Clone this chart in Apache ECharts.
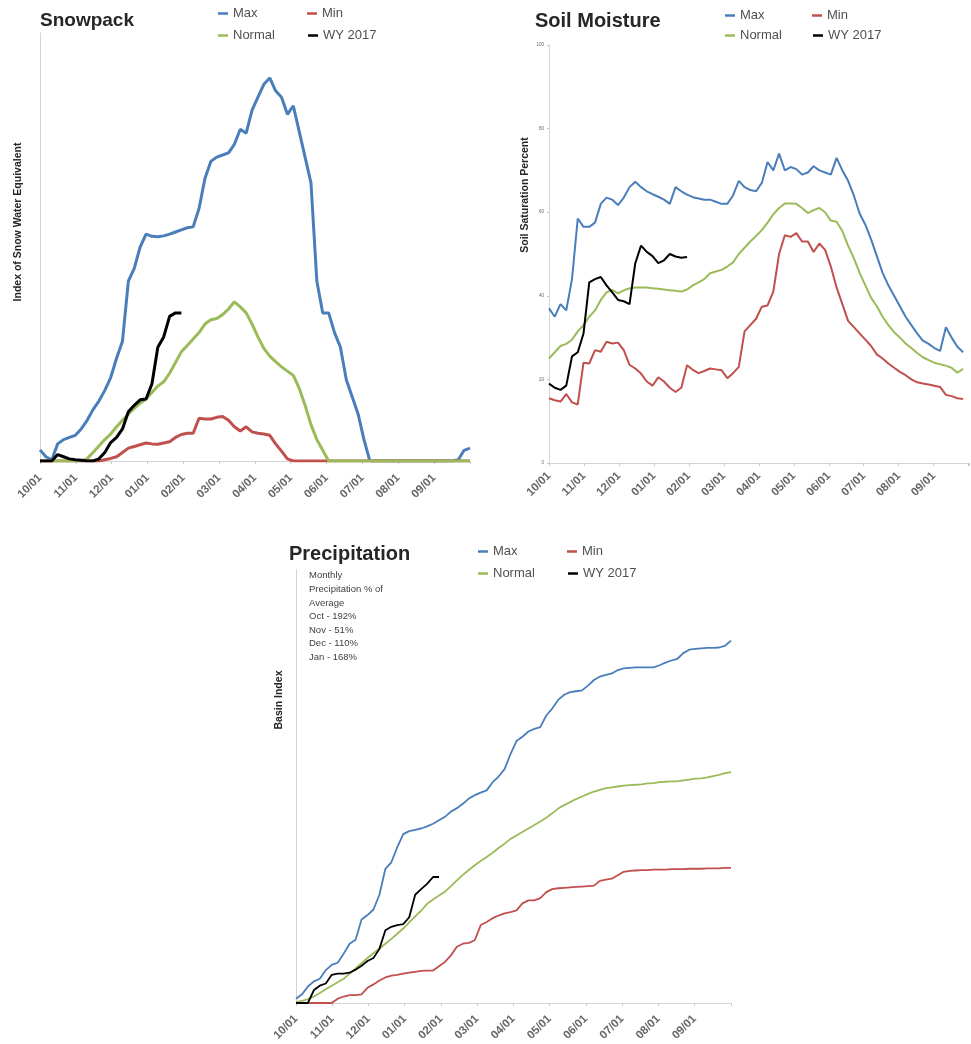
<!DOCTYPE html>
<html>
<head>
<meta charset="utf-8">
<title>Snowpack, Soil Moisture, Precipitation</title>
<script src="https://cdn.jsdelivr.net/npm/echarts@6.0.0/dist/echarts.min.js"></script>
<style>
  html, body { margin: 0; padding: 0; background: #fff; }
  #chart { width: 971px; height: 1044px; }
</style>
</head>
<body>
<div id="chart"></div>
<script>
// month tick labels of the water year, one every ~30.4 days
const monthLabels = ["10/01", "11/01", "12/01", "01/01", "02/01", "03/01",
  "04/01", "05/01", "06/01", "07/01", "08/01", "09/01"];
const seriesNames = ["Max", "Min", "Normal", "WY 2017"];
// values are read every 5 days from 10/01
const dayStep = 5;

// Snowpack (index of snow water equivalent, unlabelled axis 0-100)
const snowMax = [2.6, 1, 0.3, 4, 5, 5.5, 6, 7.5, 9.5, 12,
  14, 16.5, 19.5, 24, 28, 42, 45, 50, 53, 52.5,
  52.4, 52.6, 53, 53.5, 54, 54.5, 54.7, 59, 66, 70,
  71, 71.5, 72, 74, 77.5, 76.6, 82, 85, 88, 89.5,
  86.5, 85, 81, 83, 77, 71, 65, 42, 34.6, 34.6,
  30, 26.6, 19, 15, 11, 5, 0, 0, 0, 0,
  0, 0, 0, 0, 0, 0, 0, 0, 0, 0,
  0, 0.3, 2.5, 3];
const snowMin = [0, 0, 0, 0, 0, 0, 0, 0, 0, 0,
  0, 0.3, 0.6, 1, 2, 3, 3.4, 3.8, 4.2, 4,
  3.9, 4.2, 4.5, 5.5, 6.2, 6.5, 6.5, 10, 9.8, 9.8,
  10.2, 10.4, 9.5, 8, 7, 8, 6.8, 6.5, 6.3, 6,
  4, 2.3, 0.5, 0, 0, 0, 0, 0, 0, 0,
  0, 0, 0, 0, 0, 0, 0, 0, 0, 0,
  0, 0, 0, 0, 0, 0, 0, 0, 0, 0,
  0, 0, 0, 0];
const snowNormal = [0, 0, 0, 0, 0, 0, 0, 0, 0.5, 2,
  3.5, 5, 6.3, 8, 9.5, 11, 12.3, 13.5, 14.5, 16,
  17.5, 18.5, 20.5, 23, 25.5, 27, 28.5, 30, 32, 33,
  33.3, 34.2, 35.5, 37.2, 36, 34.6, 32, 29, 26.3, 24.5,
  23.2, 22, 21, 20, 17, 13, 8.5, 5, 2.5, 0,
  0, 0, 0, 0, 0, 0, 0, 0, 0, 0,
  0, 0, 0, 0, 0, 0, 0, 0, 0, 0,
  0, 0, 0, 0];
const snowWy2017 = [0, 0, 0, 1.5, 1, 0.5, 0.3, 0.2, 0, 0,
  0.5, 2, 4.3, 5.5, 7.5, 11.5, 13, 14.3, 14.5, 18,
  26.6, 29, 33.8, 34.6, 34.6];

// Soil moisture (soil saturation percent)
const soilTicks = [0, 20, 40, 60, 80, 100];
const soilMax = [37, 35, 38, 36.5, 44, 58.5, 56.5, 56.5, 57.5, 62,
  63.5, 63, 61.7, 63.5, 66, 67.3, 66, 65, 64.3, 63.7,
  63, 62, 66, 65, 64.2, 63.6, 63.3, 63, 63, 62.5,
  62, 62, 64, 67.5, 66, 65.3, 65, 67, 72, 70,
  74, 70, 70.8, 70.3, 69, 69.5, 71, 70, 69.5, 69,
  73, 70, 67.5, 64, 59.7, 57, 53.5, 49.5, 45.5, 42.5,
  40, 37.5, 35, 33, 31, 29.3, 28.5, 27.5, 26.8, 32.5,
  30, 27.8, 26.5];
const soilMin = [15.5, 15, 14.7, 16.5, 14.5, 14, 24, 23.8, 27, 26.6,
  29, 28.6, 28.8, 27, 23.5, 22.6, 21.4, 19.5, 18.5, 20.5,
  19.5, 18, 17, 18, 23.4, 22.3, 21.5, 22, 22.6, 22.4,
  22.2, 20.3, 21.5, 23, 31.5, 33, 34.5, 37.4, 37.7, 41,
  50, 54.5, 54.1, 55, 53, 53, 50.5, 52.5, 51, 47,
  42, 38, 34, 32.5, 31, 29.5, 28, 26, 25, 23.8,
  22.8, 21.8, 21, 20, 19.3, 19, 18.8, 18.5, 18.2, 16.3,
  16, 15.5, 15.3];
const soilNormal = [25, 26.5, 28, 28.5, 29.5, 31.5, 33, 35, 36.5, 39,
  40.8, 41.4, 40.6, 41.3, 41.8, 42, 42, 42, 41.8, 41.7,
  41.5, 41.3, 41.2, 41, 41.5, 42.5, 43.2, 44, 45.4, 45.8,
  46.2, 47, 48, 50, 51.5, 53, 54.3, 55.7, 57.5, 59.5,
  61, 62.1, 62.1, 62, 61, 59.8, 60.5, 61, 60, 58,
  57.7, 55.5, 52, 49, 45.5, 42.5, 39.5, 37.5, 35, 33,
  31.3, 30, 28.6, 27.5, 26.3, 25.3, 24.6, 24, 23.6, 23.3,
  22.8, 21.6, 22.5];
const soilWy2017 = [19, 18, 17.5, 18.5, 25.5, 26.5, 31, 43.2, 44, 44.5,
  42.5, 40.8, 39, 38.7, 38, 47.8, 52, 50.5, 49.5, 47.8,
  48.5, 50, 49.4, 49.1, 49.3];

// Precipitation (basin index, unlabelled axis 0-100)
const precipMax = [1, 2, 3.8, 5, 5.6, 7.6, 8.8, 9.3, 11.4, 13.7,
  14.6, 19.3, 20.3, 21.6, 25, 31, 32.5, 36, 39, 39.7,
  40, 40.3, 40.8, 41.4, 42.2, 43, 44.2, 45, 46, 47.2,
  48, 48.6, 49.1, 51, 52.3, 54, 57.5, 60.5, 61.5, 62.7,
  63.3, 63.7, 66.4, 68, 70, 71.2, 71.8, 72, 72.2, 73.3,
  74.6, 75.4, 75.8, 76.1, 76.9, 77.3, 77.4, 77.5, 77.5, 77.5,
  77.5, 78, 78.6, 79.1, 79.5, 80.8, 81.6, 81.8, 81.9, 82,
  82, 82.1, 82.5, 83.7];
const precipMin = [0, 0, 0, 0, 0, 0, 0, 1, 1.5, 1.8,
  1.8, 2, 3.5, 4.3, 5.2, 5.9, 6.3, 6.5, 6.8, 7,
  7.2, 7.4, 7.5, 7.5, 8.5, 9.5, 11, 13, 13.7, 13.9,
  14.5, 18, 18.7, 19.6, 20.2, 20.7, 21, 21.4, 23, 23.7,
  23.7, 24.2, 25.6, 26.3, 26.5, 26.6, 26.7, 26.8, 26.9, 27,
  27.1, 28.2, 28.5, 28.7, 29.5, 30.3, 30.5, 30.6, 30.7, 30.7,
  30.8, 30.8, 30.8, 30.9, 30.9, 30.9, 31, 31, 31, 31.1,
  31.1, 31.1, 31.2, 31.2];
const precipNormal = [0.2, 0.5, 0.9, 1.5, 2.3, 3.2, 4, 4.8, 5.6, 6.8,
  8, 9.2, 10.4, 11.5, 12.6, 13.7, 14.8, 16, 17.2, 18.6,
  20, 21.3, 22.9, 23.9, 24.8, 25.7, 27, 28.3, 29.6, 30.7,
  31.8, 32.8, 33.7, 34.7, 35.8, 36.8, 37.9, 38.7, 39.5, 40.3,
  41.1, 41.9, 42.8, 43.8, 44.9, 45.7, 46.4, 47.1, 47.7, 48.3,
  48.8, 49.2, 49.6, 49.8, 50, 50.2, 50.3, 50.4, 50.5, 50.7,
  50.8, 51, 51.1, 51.2, 51.2, 51.4, 51.6, 51.8, 51.9, 52.1,
  52.4, 52.7, 53.1, 53.3];
const precipWy2017 = [0, 0, 0, 3, 4, 4.5, 6.5, 6.8, 6.8, 7,
  7.7, 8.6, 9.7, 10.4, 12.5, 16.8, 17.6, 18, 18.2, 19.8,
  25, 26.3, 27.5, 29.1, 29.1];

const precipNote = ["Monthly", "Precipitation % of", "Average",
  "Oct - 192%", "Nov - 51%", "Dec - 110%", "Jan - 168%"];

const colors = {
  "Max": "#4a7ebb",
  "Min": "#c0504d",
  "Normal": "#9bbb59",
  "WY 2017": "#000000",
};
const font = "'Liberation Sans', Arial, sans-serif";
const monthInterval = 30.4;

function toPoints(values) {
  return values.map((v, i) => [i * dayStep, v]);
}

function makeSeries(idx, valuesByName, width) {
  return seriesNames.map((name) => ({
    name: name,
    type: "line",
    xAxisIndex: idx,
    yAxisIndex: idx,
    data: toPoints(valuesByName[name]),
    showSymbol: false,
    symbol: "none",
    lineStyle: { color: colors[name], width: width },
    itemStyle: { color: colors[name] },
  }));
}

function monthAxis(idx, margin) {
  return {
    type: "value",
    gridIndex: idx,
    min: 0,
    max: 365,
    interval: monthInterval,
    axisLine: { show: true, lineStyle: { color: "#d4d4d4", width: 1 } },
    axisTick: { show: true, length: 3, lineStyle: { color: "#c8c8c8" } },
    splitLine: { show: false },
    axisLabel: {
      rotate: 45,
      margin: margin,
      fontSize: 11.5,
      fontWeight: "bold",
      fontFamily: font,
      color: "#666666",
      formatter: function (value) {
        return monthLabels[Math.round(value / monthInterval)] || "";
      },
    },
  };
}

function plainYAxis(idx) {
  return {
    type: "value",
    gridIndex: idx,
    min: 0,
    max: 100,
    axisLine: { show: true, lineStyle: { color: "#d4d4d4", width: 1 } },
    axisTick: { show: false },
    axisLabel: { show: false },
    splitLine: { show: false },
  };
}

// one legend per entry so the 2x2 block lines up like the original
function legendItem(name, textLeft, centerY) {
  return {
    data: [name],
    left: textLeft - 15,
    top: centerY - 6,
    padding: 0,
    itemWidth: 10,
    itemHeight: 2.5,
    icon: "rect",
    selectedMode: false,
    textStyle: { fontSize: 13, color: "#505050", fontFamily: font },
  };
}

function legendBlock(col1, col2, row1, row2) {
  return [
    legendItem("Max", col1, row1),
    legendItem("Min", col2, row1),
    legendItem("Normal", col1, row2),
    legendItem("WY 2017", col2 + 1, row2),
  ];
}

function axisName(text, x, y) {
  return {
    type: "text",
    x: x,
    y: y,
    rotation: Math.PI / 2,
    style: {
      text: text,
      font: "bold 10.5px " + font,
      fill: "#262626",
      textAlign: "center",
      textVerticalAlign: "middle",
    },
  };
}

function titleAt(text, left, top, size) {
  return {
    text: text, left: left, top: top, padding: 0,
    textStyle: { fontSize: size, fontWeight: "bold", color: "#262626", fontFamily: font },
  };
}

const chart = echarts.init(document.getElementById("chart"));

const soilYAxis = {
  type: "value",
  gridIndex: 1,
  min: soilTicks[0],
  max: soilTicks[soilTicks.length - 1],
  interval: soilTicks[1] - soilTicks[0],
  axisLine: { show: true, lineStyle: { color: "#d4d4d4", width: 1 } },
  axisTick: { show: true, length: 2, lineStyle: { color: "#c8c8c8" } },
  axisLabel: { fontSize: 4.5, color: "#666", margin: 5, fontFamily: font },
  splitLine: { show: false },
};

const option = {
  animation: false,
  backgroundColor: "#ffffff",
  title: [
    titleAt("Snowpack", 40, 11, 19),
    titleAt("Soil Moisture", 535, 11, 20),
    titleAt("Precipitation", 289, 544, 20),
  ],
  legend: [].concat(
    legendBlock(233, 322, 13, 35),
    legendBlock(740, 827, 15, 35),
    legendBlock(493, 582, 551, 573)
  ),
  grid: [
    { left: 40, top: 33, width: 430, height: 428 },
    { left: 549, top: 45, width: 429, height: 418 },
    { left: 296, top: 570, width: 435, height: 433 },
  ],
  xAxis: [monthAxis(0, 15), monthAxis(1, 11), monthAxis(2, 14)],
  yAxis: [plainYAxis(0), soilYAxis, plainYAxis(2)],
  graphic: [
    axisName("Index of Snow Water Equivalent", 18, 222),
    axisName("Soil Saturation Percent", 525, 195),
    axisName("Basin Index", 279, 700),
    {
      type: "text",
      x: 309,
      y: 569,
      style: {
        text: precipNote.join("\n"),
        font: "9.5px " + font,
        lineHeight: 13.6,
        fill: "#404040",
        textVerticalAlign: "top",
      },
    },
  ],
  series: [].concat(
    makeSeries(0, { "Max": snowMax, "Min": snowMin, "Normal": snowNormal, "WY 2017": snowWy2017 }, 3),
    makeSeries(1, { "Max": soilMax, "Min": soilMin, "Normal": soilNormal, "WY 2017": soilWy2017 }, 2),
    makeSeries(2, { "Max": precipMax, "Min": precipMin, "Normal": precipNormal, "WY 2017": precipWy2017 }, 1.8)
  ),
};

chart.setOption(option);

window.addEventListener("resize", () => {
  chart.resize();
});
</script>
</body>
</html>
